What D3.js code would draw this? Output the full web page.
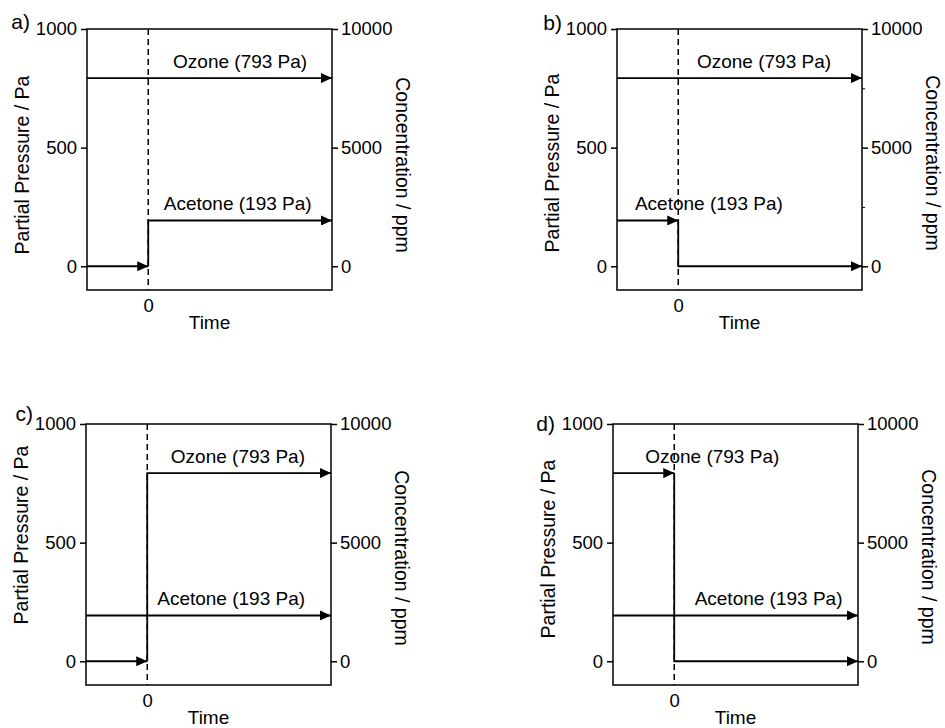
<!DOCTYPE html>
<html>
<head>
<meta charset="utf-8">
<script src="https://cdn.jsdelivr.net/npm/d3@7"></script>
<style>
	body { margin: 0; background: #fff; }
	svg { display: block; font-family: "Liberation Sans", Arial, sans-serif; }
</style>
</head>
<body>
<svg id="chart" width="945" height="728"></svg>
<script>
// データ
var panelNames = ["a)", "b)", "c)", "d)"];
var leftTicks = [0, 500, 1000];
var rightTicks = [0, 5000, 10000];
var rightMinorTicks = [[], [2500, 7500], [], []];
var timeTicks = [0];
// 分圧 (Pa) : 0 の前と後
var ozoneBefore = [793, 793, 0, 793];
var ozoneAfter = [793, 793, 793, 0];
var acetoneBefore = [0, 193, 193, 193];
var acetoneAfter = [193, 0, 193, 193];
var ozoneLabel = "Ozone (793 Pa)";
var acetoneLabel = "Acetone (193 Pa)";
// ラベルの時間位置
var ozoneLabelX = [1.5, 1.4, 1.48, 0.62];
var acetoneLabelX = [1.46, 0.5, 1.37, 1.54];

// レイアウト
var layout = [
	{ x: 87, y: 29, lab: [-57, 0], lt: 136, rt: 136 },
	{ x: 617, y: 29, lab: [-55, 1], lt: 134, rt: 134 },
	{ x: 86, y: 424, lab: [-53, -3], lt: 111, rt: 134 },
	{ x: 613, y: 424, lab: [-58, 7], lt: 125, rt: 133 }
];
var w = 245, h = 261;
var fmt = d3.format("d");

var svg = d3.select("#chart");

svg.append("defs").append("marker")
	.attr("id", "arrow")
	.attr("markerUnits", "userSpaceOnUse")
	.attr("markerWidth", 12)
	.attr("markerHeight", 10)
	.attr("refX", 11)
	.attr("refY", 5)
	.attr("orient", "auto")
	.append("path")
	.attr("d", "M0,0 L11,5 L0,10 Z")
	.attr("fill", "#000");

var x = d3.scaleLinear().domain([-1, 3]).range([0, w]);
var y = d3.scaleLinear().domain([-100, 1000]).range([h, 0]);
var yR = d3.scaleLinear().domain([-1000, 10000]).range([h, 0]);

var line = d3.line().x(function(d) { return x(d[0]); }).y(function(d) { return y(d[1]); });

panelNames.forEach(function(name, i) {
	var L = layout[i];
	var g = svg.append("g").attr("transform", "translate(" + L.x + "," + L.y + ")");

	// 枠
	g.append("rect")
		.attr("width", w).attr("height", h)
		.attr("fill", "none").attr("stroke", "#000").attr("stroke-width", 1.5);

	// 0 の破線
	g.append("line")
		.attr("x1", x(0)).attr("x2", x(0))
		.attr("y1", 0).attr("y2", h)
		.attr("stroke", "#000").attr("stroke-width", 1.5)
		.attr("stroke-dasharray", "6,4");

	// 軸
	var left = g.append("g").call(d3.axisLeft(y).tickValues(leftTicks).tickFormat(fmt).tickSize(6).tickPadding(4));
	var right = g.append("g").attr("transform", "translate(" + w + ",0)")
		.call(d3.axisRight(yR).tickValues(rightTicks).tickFormat(fmt).tickSize(6).tickPadding(3));
	var bottom = g.append("g").attr("transform", "translate(0," + h + ")")
		.call(d3.axisBottom(x).tickValues(timeTicks).tickFormat(fmt).tickSize(0).tickPadding(9));
	if (rightMinorTicks[i].length) {
		g.append("g").attr("transform", "translate(" + w + ",0)")
			.call(d3.axisRight(yR).tickValues(rightMinorTicks[i]).tickSize(3).tickFormat(""))
			.select(".domain").remove();
	}
	[left, right, bottom].forEach(function(a) {
		a.attr("font-size", 18.5).attr("font-family", null);
		a.select(".domain").remove();
		a.selectAll("line").attr("stroke-width", 1.5);
		a.selectAll("text").attr("fill", "#000");
	});

	// 系列
	var series = [
		{ b: ozoneBefore[i], a: ozoneAfter[i], label: ozoneLabel, lx: ozoneLabelX[i] },
		{ b: acetoneBefore[i], a: acetoneAfter[i], label: acetoneLabel, lx: acetoneLabelX[i] }
	];
	series.forEach(function(s) {
		var labelY;
		if (s.b === s.a) {
			g.append("path").attr("d", line([[-1, s.b], [3, s.b]]))
				.attr("fill", "none").attr("stroke", "#000").attr("stroke-width", 1.8)
				.attr("marker-end", "url(#arrow)");
			labelY = s.b;
		} else {
			g.append("path").attr("d", line([[-1, s.b], [0, s.b]]))
				.attr("fill", "none").attr("stroke", "#000").attr("stroke-width", 1.8)
				.attr("marker-end", "url(#arrow)");
			g.append("path").attr("d", line([[0, s.b], [0, s.a], [3, s.a]]))
				.attr("fill", "none").attr("stroke", "#000").attr("stroke-width", 1.8)
				.attr("marker-end", "url(#arrow)");
			labelY = Math.max(s.b, s.a);
		}
		g.append("text")
			.attr("x", x(s.lx)).attr("y", y(labelY) - 10)
			.attr("text-anchor", "middle")
			.attr("font-size", 19)
			.text(s.label);
	});

	// 軸タイトル
	g.append("text")
		.attr("x", w / 2).attr("y", h + 39)
		.attr("text-anchor", "middle").attr("font-size", 19)
		.text("Time");
	g.append("text")
		.attr("transform", "translate(-65," + L.lt + ") rotate(-90)")
		.attr("text-anchor", "middle").attr("dy", "0.35em").attr("font-size", 19.5)
		.text("Partial Pressure / Pa");
	g.append("text")
		.attr("transform", "translate(" + (w + 71) + "," + L.rt + ") rotate(90)")
		.attr("text-anchor", "middle").attr("dy", "0.35em").attr("font-size", 19.5)
		.text("Concentration / ppm");

	// パネル名
	g.append("text")
		.attr("x", L.lab[0]).attr("y", L.lab[1])
		.attr("text-anchor", "end").attr("font-size", 21)
		.text(name);
});
</script>
</body>
</html>
